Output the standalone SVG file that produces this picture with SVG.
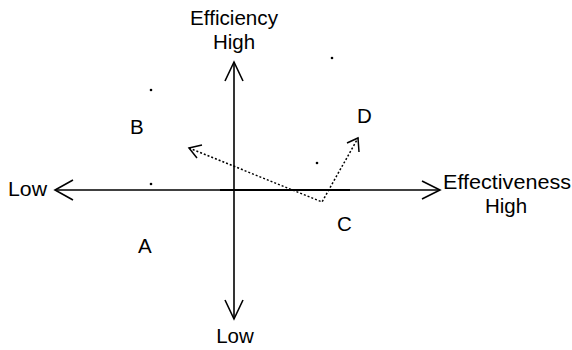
<svg xmlns="http://www.w3.org/2000/svg" width="572" height="350" viewBox="0 0 572 350">
<style>
text{font-family:"Liberation Sans",Arial,sans-serif;font-size:20.5px;fill:#000}
.ax{stroke:#000;stroke-width:1.6;fill:none}
.dot{stroke:#000;stroke-width:1.5;stroke-dasharray:2 2;fill:none}
.ah{stroke:#000;stroke-width:1.5;fill:none}
</style>
<rect width="572" height="350" fill="#fff"/>
<g id="connectors">
<line class="ax" x1="55" y1="190" x2="440" y2="190"/>
<line x1="220" y1="190" x2="350" y2="190" stroke="#000" stroke-width="2"/>
<polyline class="ax" points="73,180 55,190 73,200"/>
<polyline class="ax" points="422,181 440,190 422,199"/>
<line class="ax" x1="234" y1="62" x2="234" y2="319"/>
<polyline class="ax" points="225,81 234,62 243,81"/>
<polyline class="ax" points="225,300 234,319 243,300"/>
<polyline class="dot" points="189,148 322,202 358,138"/>
<polyline class="ah" points="202,145 189,148 197,158"/>
<polyline class="ah" points="347,143 358,138 359,152"/>
</g>
<g id="points">
<circle cx="151" cy="90" r="1.3"/>
<circle cx="151" cy="184" r="1.3"/>
<circle cx="332" cy="58" r="1.3"/>
<circle cx="317" cy="163" r="1.3"/>
</g>
<g id="labels">
<text x="234" y="25" text-anchor="middle" textLength="88" lengthAdjust="spacingAndGlyphs">Efficiency</text>
<text x="234" y="49" text-anchor="middle">High</text>
<text x="235" y="343" text-anchor="middle">Low</text>
<text x="8" y="196" textLength="39" lengthAdjust="spacingAndGlyphs">Low</text>
<text x="443" y="189" textLength="128" lengthAdjust="spacingAndGlyphs">Effectiveness</text>
<text x="506" y="213" text-anchor="middle">High</text>
<text x="130" y="134">B</text>
<text x="138" y="253">A</text>
<text x="337" y="231">C</text>
<text x="357" y="123">D</text>
</g>
</svg>
